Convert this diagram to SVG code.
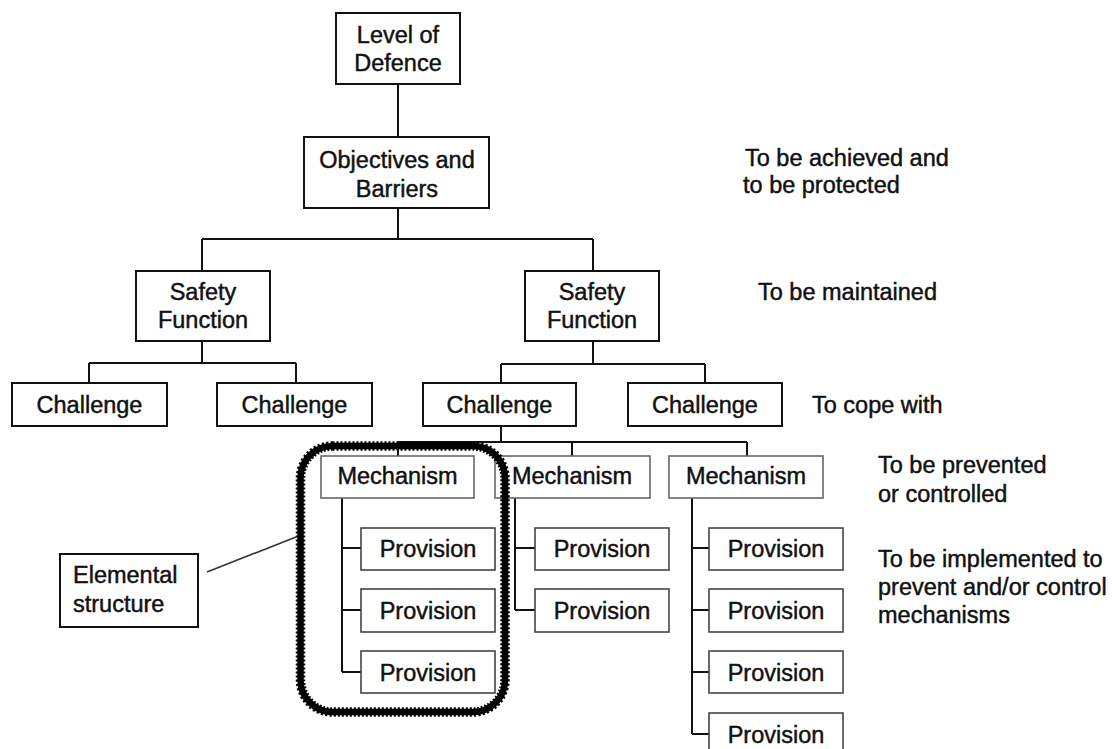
<svg xmlns="http://www.w3.org/2000/svg" width="1113" height="749" viewBox="0 0 1113 749">
<style>
text{font-family:"Liberation Sans",Arial,sans-serif;font-size:23.5px;fill:#111;stroke:#111;stroke-width:0.45;}
.c{text-anchor:middle;}
.b{fill:#fff;stroke:#111;stroke-width:2;}
.m{fill:#fff;stroke:#666;stroke-width:1.6;}
.p{fill:#fff;stroke:#444;stroke-width:1.6;}
.ln{fill:none;stroke:#111;stroke-width:2;}
</style>
<rect width="1113" height="749" fill="#fff"/>
<g id="connectors" class="ln">
<path d="M398 84V137M398 208V239M202 239H593M202 239V271M593 239V271"/>
<path d="M202 341V363M89 363H296M89 363V383M296 363V383"/>
<path d="M593 341V364M501 364H705M501 364V383M705 364V383"/>
<path d="M501 426V442M398 442H747M398 442V456M572 442V456M747 442V456"/>
<path d="M342 498V610M342 548H361M342 610H361M342 672H361M342 610V672"/>
<path d="M515 498V610M515 548H535M515 610H535"/>
<path d="M692 498V734M692 548H709M692 610H709M692 672H709M692 734H709"/>
<path d="M207 572L296 537" stroke-width="1.6" stroke="#333"/>
</g>
<g id="level"><rect class="b" x="336" y="13" width="124" height="71"/><text class="c" x="398" y="43">Level of</text><text class="c" x="398" y="71">Defence</text></g>
<g id="objectives"><rect class="b" x="304" y="137" width="185" height="71"/><text class="c" x="397" y="168">Objectives and</text><text class="c" x="397" y="197">Barriers</text></g>
<g id="sf1"><rect class="b" x="136" y="271" width="134" height="70"/><text class="c" x="203" y="300">Safety</text><text class="c" x="203" y="328">Function</text></g>
<g id="sf2"><rect class="b" x="525" y="271" width="134" height="70"/><text class="c" x="592" y="300">Safety</text><text class="c" x="592" y="328">Function</text></g>
<g id="ch1"><rect class="b" x="12" y="383" width="155" height="43"/><text class="c" x="89.5" y="413">Challenge</text></g>
<g id="ch2"><rect class="b" x="217" y="383" width="155" height="43"/><text class="c" x="294.5" y="413">Challenge</text></g>
<g id="ch3"><rect class="b" x="423" y="383" width="153" height="43"/><text class="c" x="499.5" y="413">Challenge</text></g>
<g id="ch4"><rect class="b" x="628" y="383" width="154" height="43"/><text class="c" x="705" y="413">Challenge</text></g>
<g id="mech1"><rect class="m" x="321" y="456" width="153" height="42"/><text class="c" x="397.5" y="484">Mechanism</text></g>
<g id="mech2"><rect class="m" x="495" y="456" width="155" height="42"/><text class="c" x="572" y="484">Mechanism</text></g>
<g id="mech3"><rect class="m" x="669" y="456" width="154" height="42"/><text class="c" x="746" y="484">Mechanism</text></g>
<g id="p11"><rect class="p" x="361" y="528" width="134" height="42"/><text class="c" x="428" y="557">Provision</text></g>
<g id="p12"><rect class="p" x="361" y="589" width="134" height="43"/><text class="c" x="428" y="619">Provision</text></g>
<g id="p13"><rect class="p" x="361" y="651" width="134" height="42"/><text class="c" x="428" y="681">Provision</text></g>
<g id="p21"><rect class="p" x="535" y="528" width="134" height="42"/><text class="c" x="602" y="557">Provision</text></g>
<g id="p22"><rect class="p" x="535" y="589" width="134" height="43"/><text class="c" x="602" y="619">Provision</text></g>
<g id="p31"><rect class="p" x="709" y="528" width="134" height="42"/><text class="c" x="776" y="557">Provision</text></g>
<g id="p32"><rect class="p" x="709" y="589" width="134" height="43"/><text class="c" x="776" y="619">Provision</text></g>
<g id="p33"><rect class="p" x="709" y="651" width="134" height="42"/><text class="c" x="776" y="681">Provision</text></g>
<g id="p34"><rect class="p" x="709" y="713" width="134" height="42"/><text class="c" x="776" y="743">Provision</text></g>
<g id="elemental-frame">
<rect x="300.5" y="446" width="204.5" height="266" rx="32" fill="none" stroke="#000" stroke-width="6.5"/>
<rect x="300.5" y="446" width="204.5" height="266" rx="32" fill="none" stroke="#000" stroke-width="9.5" stroke-dasharray="2 2"/>
</g>
<g id="elemental"><rect class="b" x="60" y="554" width="138" height="73"/><text x="73" y="583">Elemental</text><text x="73" y="612">structure</text></g>
<g id="notes">
<text x="745" y="166">To be achieved and</text>
<text x="743" y="193">to be protected</text>
<text x="758" y="300">To be maintained</text>
<text x="812" y="413">To cope with</text>
<text x="878" y="473">To be prevented</text>
<text x="878" y="502">or controlled</text>
<text x="878" y="567">To be implemented to</text>
<text x="878" y="595">prevent and/or control</text>
<text x="878" y="623">mechanisms</text>
</g>
</svg>
